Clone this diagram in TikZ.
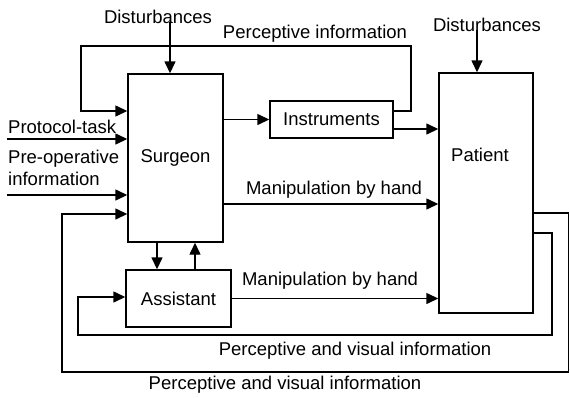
\documentclass[tikz,border=0pt]{standalone}
\usepackage{fontspec}
\setmainfont{Liberation Sans}
\usetikzlibrary{arrows.meta}
\tikzset{
    box/.style={draw, line width=1.4pt, inner sep=0pt},
    arr/.style={line width=1.4pt, -{Triangle[length=12pt,width=11pt]}},
    lbl/.style={inner sep=0pt, font=\fontsize{18.5}{22}\selectfont},
}
\begin{document}
\begin{tikzpicture}[x=1pt, y=-1pt]
        \useasboundingbox (0,0) rectangle (570,397);
        % blocks
        \node[box, lbl, minimum width=95pt, minimum height=168pt] (surgeon) at (175.5,158) {Surgeon};
        \node[box, lbl, minimum width=123pt, minimum height=37pt] (instr) at (331.5,119.5) {Instruments};
        \node[box, minimum width=94pt, minimum height=240pt,
              label={[lbl, xshift=-6pt, yshift=38pt]center:Patient}] (patient) at (486,193) {};
        \node[box, lbl, minimum width=105pt, minimum height=57pt] (asst) at (178.5,298.5) {Assistant};
        % labels
        \node[lbl] (dist1) at (158,17) {Disturbances};
        \node[lbl] (dist2) at (487,25) {Disturbances};
        \node[lbl] (perc) at (315,34) {Perceptive information};
        \node[lbl, anchor=west] (proto) at (8,127) {Protocol-task};
        \node[lbl, anchor=west, align=left] (preop) at (8,168) {Pre-operative\\information};
        \node[lbl] (manip1) at (334,190) {Manipulation by hand};
        \node[lbl] (manip2) at (330,281) {Manipulation by hand};
        \node[lbl] (vis1) at (355,351) {Perceptive and visual information};
        \node[lbl] (vis2) at (285,385) {Perceptive and visual information};
        \coordinate (in1) at (7,139);
        \coordinate (in2) at (7,195);
        % disturbances
        \draw[arr] ([xshift=-5.5pt]surgeon.north |- dist1.south) ++(0,-2) -- ([xshift=-5.5pt]surgeon.north);
        \draw[arr] ([xshift=-9pt]patient.north |- dist2.south) ++(0,-2) -- ([xshift=-9pt]patient.north);
        % inputs to surgeon
        \draw[arr] (in1) -- (surgeon.west |- in1);
        \draw[arr] (in2) -- (surgeon.west |- in2);
        % surgeon and instruments
        \draw[arr] (surgeon.east |- instr.west) -- (instr.west);
        \draw[arr] ([yshift=-9.5pt]instr.east) -- (patient.west |- 0,129);
        \draw[arr] ([yshift=8.5pt]instr.east) -- (411,111) -- (411,46) -- (81,46) -- (81,111) -- ([yshift=47pt]surgeon.west);
        % manipulation
        \draw[arr] ([yshift=-46pt]surgeon.east) -- (patient.west |- 0,204);
        \draw[arr] (asst.east) -- (patient.west |- asst.east);
        % surgeon and assistant
        \draw[arr] ([xshift=-18.5pt]surgeon.south) -- ([xshift=-18.5pt]surgeon.south |- asst.north);
        \draw[arr] ([xshift=19.5pt]surgeon.south |- asst.north) -- ([xshift=19.5pt]surgeon.south);
        % feedback loops
        \draw[arr] ([yshift=-20pt]patient.east) -- (568.5,213) -- (568.5,372) -- (62,372) -- (62,214) -- ([yshift=-56pt]surgeon.west);
        \draw[arr] ([yshift=-40pt]patient.east) -- (552,233) -- (552,335) -- (78,335) -- (78,297) -- (asst.west |- 0,297);
    \end{tikzpicture}
\end{document}
